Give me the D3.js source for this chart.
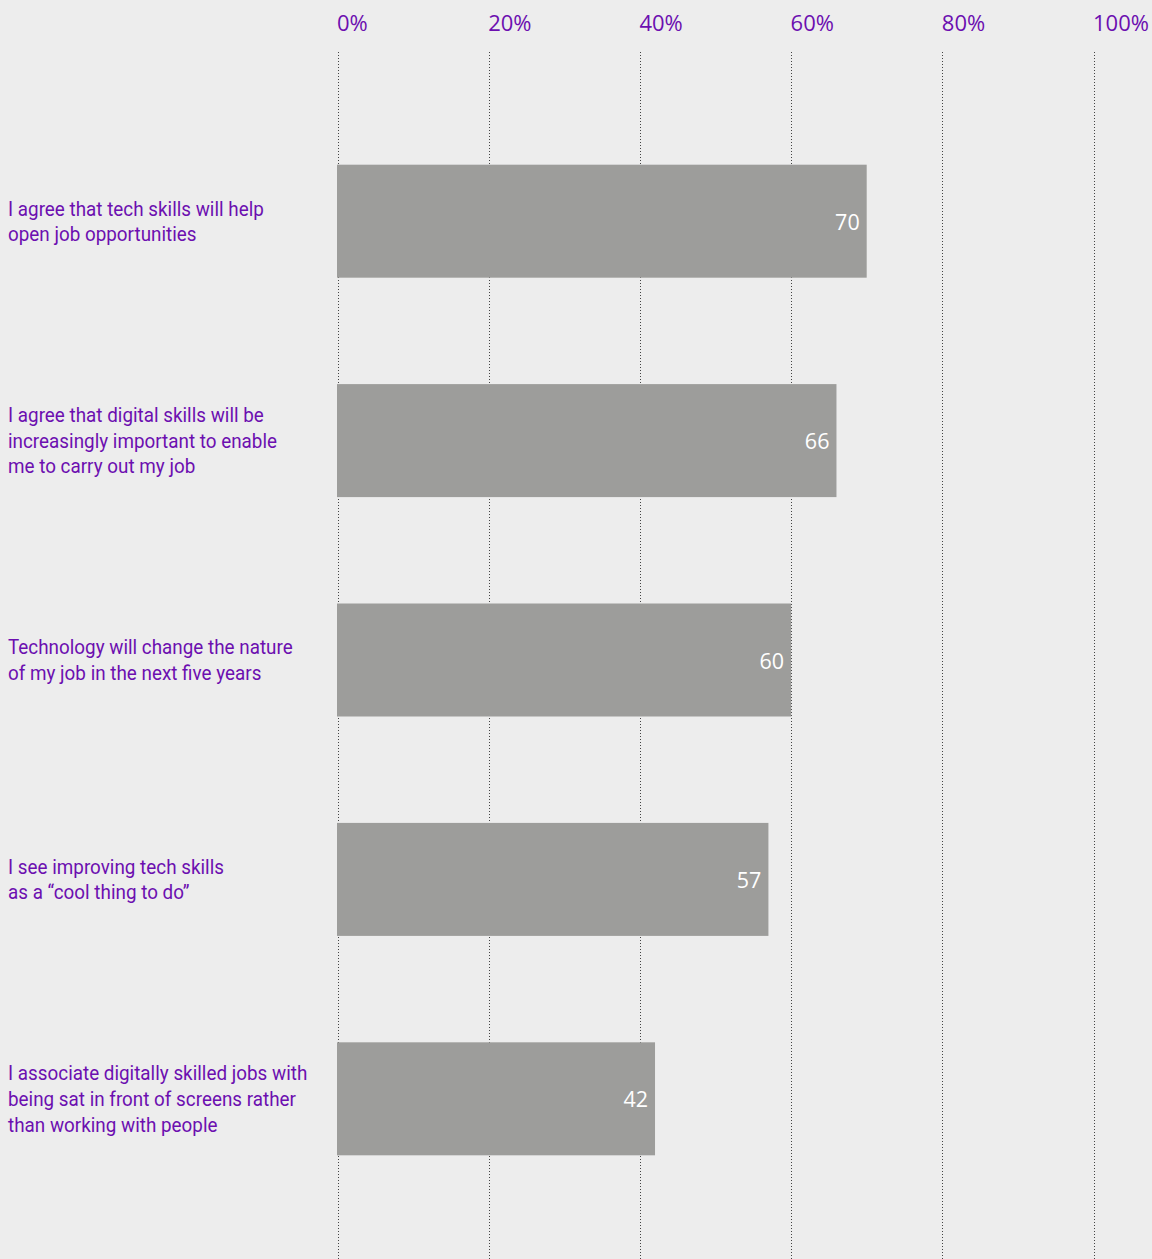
<!DOCTYPE html>
<html><head><meta charset="utf-8">
<script src="https://cdn.jsdelivr.net/npm/d3@7"></script>
<style>
html,body{margin:0;padding:0;background:#ededed;}
svg{display:block;}
</style></head>
<body>
<svg id="chart" width="1152" height="1259"></svg>
<script>
const categories = [
  ["I agree that tech skills will help", "open job opportunities"],
  ["I agree that digital skills will be", "increasingly important to enable", "me to carry out my job"],
  ["Technology will change the nature", "of my job in the next five years"],
  ["I see improving tech skills", "as a \u201ccool thing to do\u201d"],
  ["I associate digitally skilled jobs with", "being sat in front of screens rather", "than working with people"]
];
const values = [70, 66, 60, 57, 42];
const ticks = [0, 20, 40, 60, 80, 100];
const tickLabels = ["0%", "20%", "40%", "60%", "80%", "100%"];

const W = 1152, H = 1259;
const purple = "#6c0fb0";
const svg = d3.select("#chart");
svg.append("rect").attr("width", W).attr("height", H).attr("fill", "#ededed");

const x = d3.scaleLinear().domain([0, 100]).range([337.5, 1093.5]);
const idx = categories.map((d, i) => i);
const y = d3.scaleBand().domain(idx).range([55, 1265]).paddingInner(0.485).paddingOuter(0.5);

// gridlines
svg.append("g").selectAll("line").data(ticks).join("line")
  .attr("x1", d => Math.round(x(d)) + 0.5).attr("x2", d => Math.round(x(d)) + 0.5)
  .attr("y1", 52).attr("y2", H)
  .attr("stroke", "#444").attr("stroke-width", 1).attr("stroke-dasharray", "1,2");

// top axis labels
const axis = d3.axisTop(x).tickValues(ticks).tickFormat((d, i) => tickLabels[i]).tickSize(0).tickPadding(0);
const ga = svg.append("g").attr("transform", "translate(0,31)").call(axis);
ga.select(".domain").remove();
ga.selectAll("text")
  .attr("text-anchor", "start").attr("dx", -1).attr("y", 0).attr("dy", 0)
  .attr("fill", purple)
  .style("font-family", "'Open Sans', sans-serif").style("font-size", "22px");

// bars
svg.append("g").selectAll("rect").data(values).join("rect")
  .attr("x", x(0) - 0.5).attr("y", (d, i) => y(i))
  .attr("width", d => x(d) - x(0) + 0.5).attr("height", y.bandwidth())
  .attr("fill", "#9d9d9b");

// value labels
svg.append("g").selectAll("text").data(values).join("text")
  .attr("x", d => x(d) - 7).attr("y", (d, i) => y(i) + y.bandwidth() / 2 + 1)
  .attr("dy", "0.35em").attr("text-anchor", "end")
  .attr("fill", "#fff")
  .style("font-family", "'Open Sans', sans-serif").style("font-size", "21.5px")
  .text(d => d);

// category labels
const lh = 25.7;
const cg = svg.append("g").selectAll("text").data(categories).join("text")
  .attr("fill", purple)
  .style("font-family", "'Roboto', sans-serif").style("font-size", "20.5px")
  .attr("transform", (d, i) => `translate(8,${y(i) + y.bandwidth() / 2 - (d.length - 1) * lh / 2}) scale(0.92,1)`);
cg.selectAll("tspan").data(d => d).join("tspan")
  .attr("x", 0).attr("y", (d, j) => j * lh).attr("dy", "0.35em")
  .text(d => d);
</script>
</body></html>
